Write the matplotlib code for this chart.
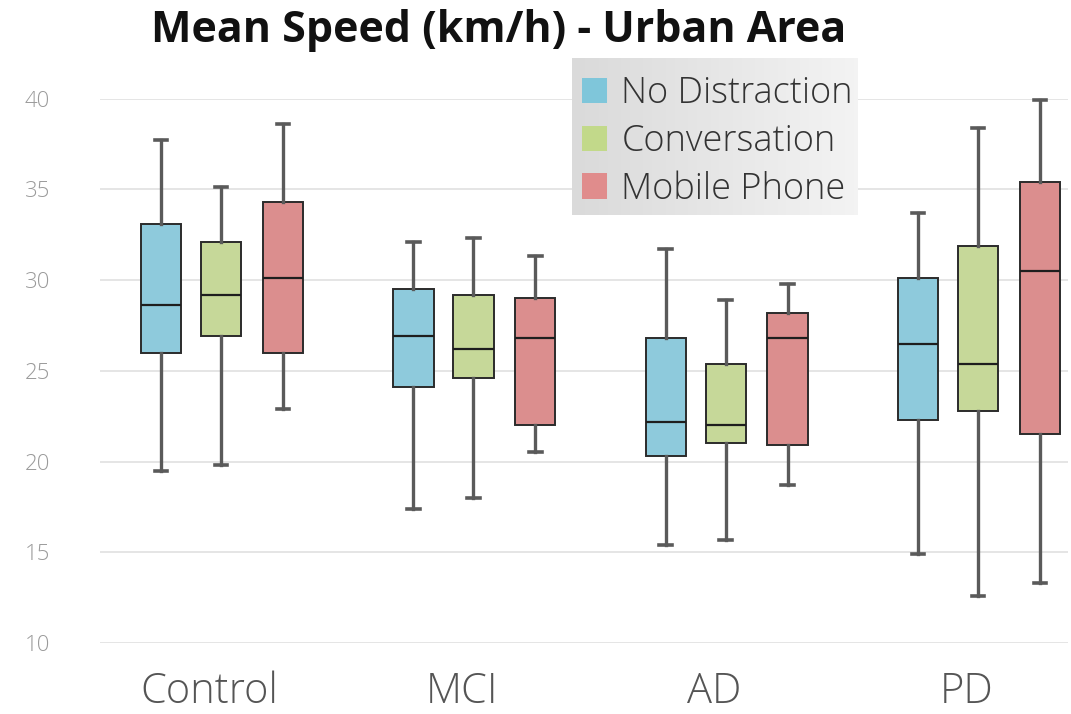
import numpy as np
from matplotlib import pyplot as plt
from matplotlib.patches import Patch
from matplotlib.colors import LinearSegmentedColormap

# Groups and distraction conditions
groups = ['Control', 'MCI', 'AD', 'PD']
conditions = ['No Distraction', 'Conversation', 'Mobile Phone']

# Box statistics, one row per condition, one column per group
whisker_low = [[19.5, 17.4, 15.4, 14.9],
               [19.8, 18.0, 15.7, 12.6],
               [22.9, 20.5, 18.7, 13.3]]
q1 = [[26.0, 24.1, 20.3, 22.3],
      [26.9, 24.6, 21.0, 22.8],
      [26.0, 22.0, 20.9, 21.5]]
median = [[28.6, 26.9, 22.2, 26.5],
          [29.2, 26.2, 22.0, 25.4],
          [30.1, 26.8, 26.8, 30.5]]
q3 = [[33.1, 29.5, 26.8, 30.1],
      [32.1, 29.2, 25.4, 31.9],
      [34.3, 29.0, 28.2, 35.4]]
whisker_high = [[37.7, 32.1, 31.7, 33.7],
                [35.1, 32.3, 28.9, 38.4],
                [38.6, 31.3, 29.8, 39.9]]

box_colors = ['#8ecadc', '#c6d899', '#db8e8e']
legend_colors = ['#7fc6da', '#c2d98a', '#e08c8c']

fig = plt.figure(figsize=(10.71, 7.14), dpi=100)
ax = fig.add_axes([0.0934, 0.0994, 0.904, 0.7626])

centers = np.arange(len(groups))
offsets = [-0.238, 0.0, 0.245]

for c in range(len(conditions)):
    stats = []
    for g in range(len(groups)):
        stats.append(dict(whislo=whisker_low[c][g], q1=q1[c][g], med=median[c][g],
                          q3=q3[c][g], whishi=whisker_high[c][g], fliers=[]))
    parts = ax.bxp(stats, positions=centers + offsets[c], widths=0.16, capwidths=0.05,
                   patch_artist=True, showfliers=False, manage_ticks=False,
                   boxprops=dict(facecolor=box_colors[c], edgecolor='#2b2b2b', linewidth=1.4),
                   medianprops=dict(color='#1e1e1e', linewidth=1.6),
                   whiskerprops=dict(color='#5a5a5a', linewidth=2.4),
                   capprops=dict(color='#5a5a5a', linewidth=2.6))
    for key in ('whiskers', 'caps'):
        for line in parts[key]:
            line.set_clip_on(False)

ax.set_ylim(10, 40)
ax.set_xlim(-0.48, 3.357)
ax.set_yticks([10, 15, 20, 25, 30, 35, 40])
ax.set_xticks(centers - 0.045)
ax.set_xticklabels(groups, fontsize=30, color='#555555', family='Open Sans', fontweight='light')
ax.tick_params(axis='x', length=0, pad=20)
ax.tick_params(axis='y', length=0, pad=36, labelsize=16, labelcolor='#9a9a9a')
for lbl in ax.get_yticklabels():
    lbl.set_family('Open Sans')
    lbl.set_fontweight('light')
ax.yaxis.grid(True, color='#e3e3e3', linewidth=1.3)
ax.set_axisbelow(True)
for s in ax.spines.values():
    s.set_visible(False)

fig.text(0.466, 0.957, 'Mean Speed (km/h) - Urban Area', ha='center', va='center',
         fontsize=31, fontweight='bold', family='Open Sans', color='#111111')

# gradient background behind the legend
grey_fade = LinearSegmentedColormap.from_list('grey_fade', ['#dadada', '#f3f3f3'])
bg = fig.add_axes([572 / 1071, 1 - 215 / 714, 286 / 1071, 157 / 714])
bg.imshow(np.linspace(0, 1, 64).reshape(1, -1), cmap=grey_fade,
          aspect='auto', extent=(0, 1, 0, 1))
bg.set_axis_off()

handles = [Patch(facecolor=legend_colors[i], edgecolor='none') for i in range(3)]
leg = fig.legend(handles, conditions, loc='upper left', bbox_to_anchor=(0.543, 0.895),
                 frameon=False, prop=dict(family='Open Sans', size=26, weight='light'),
                 handlelength=0.7, handleheight=0.7, handletextpad=0.4,
                 labelspacing=0.3, borderpad=0.0, borderaxespad=0)
for t in leg.get_texts():
    t.set_color('#333333')

fig.savefig('out.png', dpi=100)
